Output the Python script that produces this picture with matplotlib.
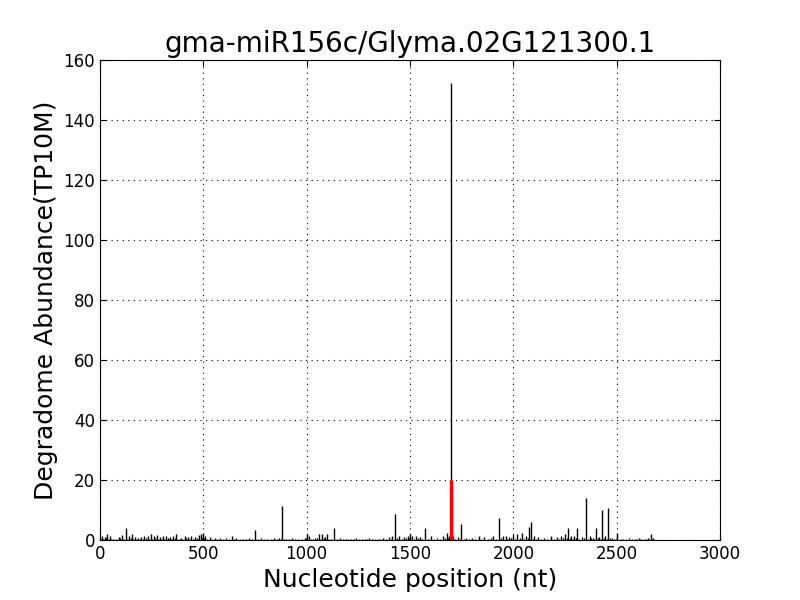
import numpy as np
import matplotlib
matplotlib.use("Agg")
import matplotlib.pyplot as plt

# degradome read abundance along the transcript
positions = [10, 22, 35, 48, 90, 105, 127, 140, 155, 170, 200, 215, 232, 245, 262, 275,
             290, 305, 320, 340, 355, 370, 390, 410, 425, 440, 460, 480, 490, 500, 510,
             530, 555, 580, 610, 640, 660, 690, 720, 750, 780, 810, 840, 865, 882, 900,
             930, 960, 990, 1000, 1010, 1040, 1060, 1075, 1090, 1100, 1132, 1160, 1200,
             1240, 1280, 1300, 1330, 1370, 1400, 1415, 1428, 1447, 1470, 1490, 1500, 1510,
             1530, 1550, 1573, 1600, 1630, 1660, 1678, 1690, 1698, 1710, 1730, 1747, 1770,
             1800, 1834, 1860, 1900, 1932, 1950, 1963, 1980, 2000, 2020, 2040, 2060, 2077,
             2087, 2100, 2120, 2150, 2180, 2210, 2230, 2250, 2266, 2280, 2295, 2310, 2330,
             2350, 2370, 2385, 2400, 2415, 2431, 2445, 2460, 2475, 2503, 2530, 2560, 2590,
             2610, 2630, 2650, 2665, 2675]
abundance = [1.5, 1.0, 2.0, 1.2, 1.0, 1.8, 4.0, 1.5, 2.0, 1.0, 1.0, 1.5, 1.2, 2.0, 1.5, 1.8,
             1.0, 1.5, 1.2, 1.0, 1.5, 2.0, 0.8, 1.2, 1.0, 1.5, 1.0, 1.8, 2.0, 2.2, 1.5,
             1.0, 0.8, 0.6, 0.8, 1.5, 0.6, 0.5, 0.8, 3.3, 0.6, 0.5, 0.8, 0.6, 11.2, 0.5,
             0.6, 0.5, 0.8, 2.0, 1.5, 0.8, 2.0, 2.0, 1.0, 2.0, 4.0, 0.6, 0.5, 0.6, 0.5,
             0.8, 0.5, 0.6, 1.0, 1.5, 8.7, 1.5, 1.0, 1.5, 2.0, 1.2, 1.5, 1.0, 4.0, 1.2,
             0.8, 1.5, 2.5, 1.5, 152.5, 1.2, 1.0, 5.3, 0.8, 0.6, 1.5, 1.0, 1.2, 7.2, 1.2,
             1.5, 1.0, 1.5, 2.0, 2.5, 1.5, 4.4, 6.0, 1.2, 1.0, 0.8, 1.2, 1.0, 1.5, 2.0,
             4.0, 1.5, 1.2, 4.0, 1.0, 13.9, 1.2, 0.8, 4.0, 1.0, 10.0, 1.2, 10.6, 0.8, 2.3,
             0.5, 0.6, 0.5, 0.6, 0.5, 0.6, 2.0, 0.8]
# low background reads filling the baseline
bg_positions = [5, 15, 28, 42, 55, 65, 78, 98, 115, 133, 148, 162, 178, 185, 192, 208, 222,
                238, 252, 268, 282, 298, 312, 328, 335, 348, 362, 378, 385, 398, 418, 432,
                448, 468, 475, 495, 505, 518, 540, 565, 595, 625, 650, 675, 705, 735, 765,
                795, 825, 855, 875, 890, 915, 945, 975, 995, 1020, 1030, 1050, 1068, 1082,
                1110, 1120, 1145, 1175, 1190, 1215, 1230, 1255, 1270, 1290, 1315, 1345,
                1355, 1385, 1408, 1438, 1460, 1480, 1495, 1520, 1540, 1560, 1585, 1615,
                1645, 1670, 1685, 1720, 1740, 1760, 1785, 1815, 1845, 1875, 1890, 1915,
                1940, 1970, 1990, 2010, 2030, 2050, 2070, 2093, 2110, 2135, 2165, 2195,
                2220, 2240, 2258, 2272, 2288, 2302, 2320, 2340, 2360, 2378, 2392, 2408,
                2422, 2438, 2452, 2468, 2485, 2495, 2520, 2545, 2575, 2600, 2620, 2640,
                2658, 2670]
bg_abundance = [0.5, 0.4, 0.6, 0.5, 0.3, 0.5, 0.4, 0.6, 0.5, 0.4, 0.6, 0.5, 0.4, 0.7, 0.5,
                0.4, 0.6, 0.5, 0.4, 0.6, 0.5, 0.4, 0.5, 0.6, 0.4, 0.5, 0.6, 0.4, 0.5, 0.4,
                0.6, 0.5, 0.4, 0.6, 0.5, 0.8, 0.6, 0.5, 0.4, 0.3, 0.4, 0.3, 0.4, 0.3, 0.4,
                0.3, 0.4, 0.3, 0.4, 0.3, 0.4, 0.3, 0.4, 0.3, 0.4, 0.6, 0.5, 0.4, 0.6, 0.5,
                0.6, 0.4, 0.5, 0.3, 0.4, 0.3, 0.4, 0.3, 0.4, 0.3, 0.4, 0.3, 0.4, 0.3, 0.4,
                0.5, 0.6, 0.4, 0.6, 0.8, 0.5, 0.6, 0.4, 0.5, 0.4, 0.5, 0.6, 0.8, 0.5, 0.4,
                0.5, 0.4, 0.5, 0.4, 0.5, 0.6, 0.4, 0.6, 0.5, 0.6, 0.5, 0.6, 0.5, 0.6, 0.5,
                0.4, 0.5, 0.4, 0.5, 0.4, 0.6, 0.8, 0.6, 0.5, 0.6, 0.5, 0.6, 0.5, 0.6, 0.5,
                0.6, 0.5, 0.6, 0.5, 0.6, 0.5, 0.4, 0.5, 0.3, 0.4, 0.3, 0.4, 0.3, 0.4, 0.3]
cleavage_pos = 1698
cleavage_val = 20

fig = plt.figure(figsize=(8, 6), dpi=100, facecolor="white")
ax = fig.add_axes([0.125, 0.1, 0.775, 0.8])
ax.set_axisbelow(True)
ax.vlines(bg_positions, 0, bg_abundance, colors="black", linewidth=1)
ax.vlines(positions, 0, abundance, colors="black", linewidth=1)
ax.vlines([cleavage_pos], 0, [cleavage_val], colors="red", linewidth=2.5)
ax.set_xlim(0, 3000)
ax.set_ylim(0, 160)
ax.grid(True, linestyle=(0, (1, 4)), color="black", linewidth=0.8)
ax.tick_params(direction="in", top=True, right=True, labelsize=12, length=4)
ax.set_title("gma-miR156c/Glyma.02G121300.1", fontsize=20)
ax.set_xlabel("Nucleotide position (nt)", fontsize=18)
ax.set_ylabel("Degradome Abundance(TP10M)", fontsize=18)
fig.savefig("out.png", dpi=100, facecolor="white")
